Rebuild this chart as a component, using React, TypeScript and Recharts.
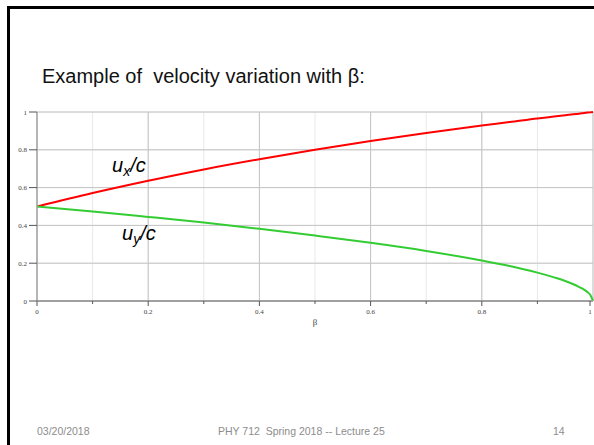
import { LineChart, Line, XAxis, YAxis, CartesianGrid, ReferenceLine } from "recharts";

// beta = v/c of the moving frame
const beta = [0, 0.1, 0.2, 0.3, 0.4, 0.5, 0.6, 0.7, 0.8, 0.85, 0.9, 0.93, 0.95, 0.97, 0.98, 0.99, 0.995, 1];
const uxOverC = [0.5, 0.571, 0.636, 0.696, 0.75, 0.8, 0.846, 0.889, 0.929, 0.947, 0.966, 0.976, 0.983, 0.99, 0.993, 0.997, 0.998, 1];
const uyOverC = [0.5, 0.474, 0.445, 0.415, 0.382, 0.346, 0.308, 0.265, 0.214, 0.185, 0.15, 0.125, 0.106, 0.082, 0.067, 0.047, 0.033, 0];

const minorTicks = [0, 0.1, 0.2, 0.3, 0.4, 0.5, 0.6, 0.7, 0.8, 0.9, 1];
const majorTicks = [0, 0.2, 0.4, 0.6, 0.8, 1];
const tickLabels = ["0", "0.2", "0.4", "0.6", "0.8", "1"];

const data = beta.map((b, i) => ({ beta: b, ux: uxOverC[i], uy: uyOverC[i] }));

const sans = "'Liberation Sans', Arial, sans-serif";
const serif = "'Liberation Serif', 'Times New Roman', serif";

function majorIndex(v: number) {
  return majorTicks.findIndex((m) => Math.abs(m - v) < 1e-6);
}

function XTick(props: any) {
  const { x, y, payload } = props;
  const i = majorIndex(payload.value);
  return (
    <g>
      <line x1={x} x2={x} y1={y} y2={y + (i >= 0 ? 5 : 3)} stroke="#555" />
      {i >= 0 && (
        <text x={x} y={y + 13} textAnchor="middle" fontSize={7} fontFamily={serif} fill="#444">
          {tickLabels[i]}
        </text>
      )}
    </g>
  );
}

function YTick(props: any) {
  const { x, y, payload } = props;
  const i = majorIndex(payload.value);
  return (
    <g>
      <line x1={x - (i >= 0 ? 8 : 4)} x2={x} y1={y} y2={y} stroke="#555" />
      {i >= 0 && (
        <text x={x - 10} y={y + 2.5} textAnchor="end" fontSize={7} fontFamily={serif} fill="#444">
          {tickLabels[i]}
        </text>
      )}
    </g>
  );
}

export default function App() {
  return (
    <div style={{ position: "absolute", left: 0, top: 0, width: 594, height: 445, background: "#fff", overflow: "hidden" }}>
      {/* slide border */}
      <div style={{ position: "absolute", left: 7, top: 6, width: 600, height: 3, background: "#000" }} />
      <div style={{ position: "absolute", left: 7, top: 6, width: 3, height: 450, background: "#000" }} />

      <div style={{ position: "absolute", left: 42, top: 66, fontFamily: sans, fontSize: 20, lineHeight: "20px", color: "#111", whiteSpace: "pre" }}>
        Example of  velocity variation with β:
      </div>

      <div style={{ position: "absolute", left: 0, top: 0 }}>
        <LineChart width={594} height={340} data={data} margin={{ top: 112, right: 1, bottom: 13, left: 0 }}>
          <CartesianGrid stroke="#e8e8e8" />
          {majorTicks.slice(1).map((t) => (
            <ReferenceLine key={"vx" + t} x={t} stroke="#c4c4c4" />
          ))}
          {majorTicks.slice(1).map((t) => (
            <ReferenceLine key={"hy" + t} y={t} stroke="#c4c4c4" />
          ))}
          <XAxis
            dataKey="beta"
            type="number"
            domain={[0, 1]}
            ticks={minorTicks}
            height={26}
            tickSize={0}
            tickMargin={0}
            tick={<XTick />}
            axisLine={{ stroke: "#a0a0a0", strokeWidth: 2 }}
            label={{ value: "β", position: "insideBottom", offset: 2, fontSize: 9, fontFamily: serif, fill: "#444" }}
          />
          <YAxis
            type="number"
            domain={[0, 1]}
            ticks={minorTicks}
            width={37}
            tickSize={0}
            tickMargin={0}
            tick={<YTick />}
            axisLine={{ stroke: "#a0a0a0", strokeWidth: 1.5 }}
          />
          <Line type="monotone" dataKey="ux" stroke="#ff0000" strokeWidth={2} dot={false} isAnimationActive={false} />
          <Line type="monotone" dataKey="uy" stroke="#33cc33" strokeWidth={2} dot={false} isAnimationActive={false} />
        </LineChart>
      </div>

      <div style={{ position: "absolute", left: 112, top: 155, fontFamily: sans, fontSize: 20, lineHeight: "20px", fontStyle: "italic", color: "#000", whiteSpace: "pre" }}>
        u<span style={{ fontSize: 14, position: "relative", top: 4 }}>x</span>/c
      </div>
      <div style={{ position: "absolute", left: 122, top: 223, fontFamily: sans, fontSize: 20, lineHeight: "20px", fontStyle: "italic", color: "#000", whiteSpace: "pre" }}>
        u<span style={{ fontSize: 14, position: "relative", top: 4 }}>y</span>/c
      </div>

      <div style={{ position: "absolute", left: 37, top: 425, fontFamily: sans, fontSize: 10.5, lineHeight: "12px", color: "#8c8c8c", whiteSpace: "pre" }}>
        03/20/2018
      </div>
      <div style={{ position: "absolute", left: 218, top: 425, fontFamily: sans, fontSize: 10.5, lineHeight: "12px", color: "#8c8c8c", whiteSpace: "pre" }}>
        PHY 712  Spring 2018 -- Lecture 25
      </div>
      <div style={{ position: "absolute", left: 553, top: 425, fontFamily: sans, fontSize: 10.5, lineHeight: "12px", color: "#8c8c8c", whiteSpace: "pre" }}>
        14
      </div>
    </div>
  );
}
